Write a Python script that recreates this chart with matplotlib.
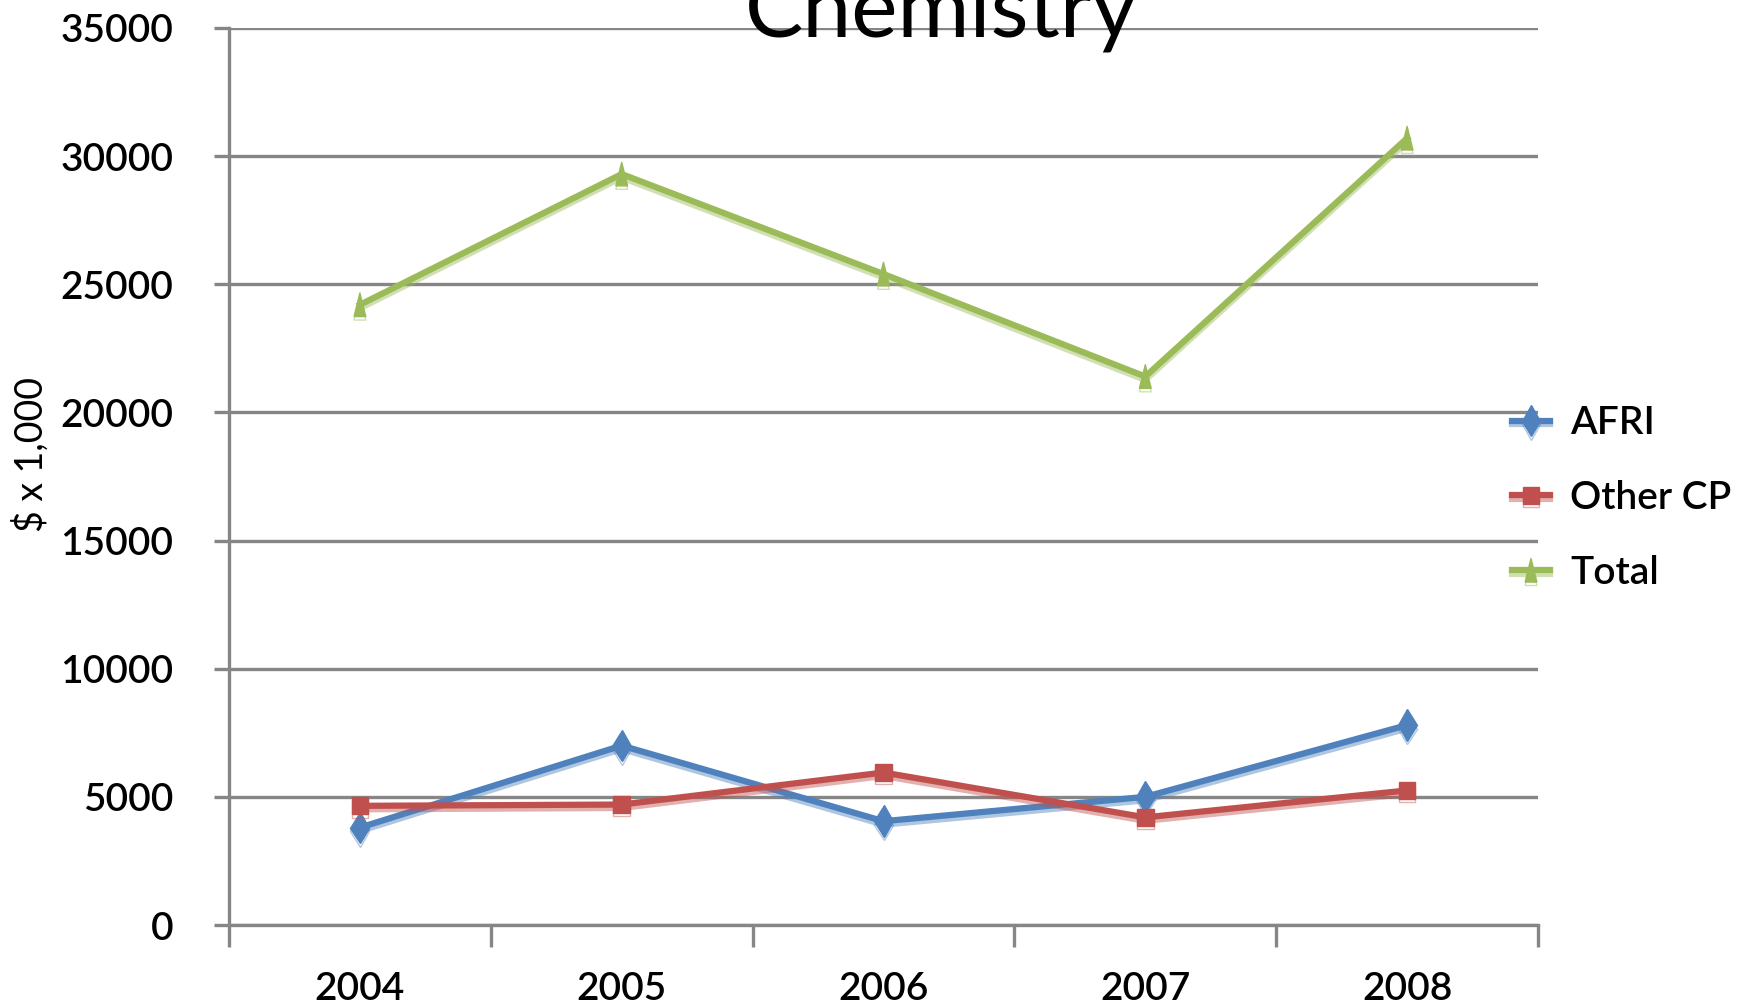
import matplotlib
matplotlib.use("Agg")
import matplotlib.pyplot as plt
import matplotlib.patheffects as pe
import numpy as np

plt.rcParams['font.family'] = ['Lato', 'DejaVu Sans']

years = ['2004', '2005', '2006', '2007', '2008']
afri = [3800, 7000, 4050, 5000, 7800]
other_cp = [4650, 4700, 5950, 4200, 5250]
total = [24200, 29300, 25400, 21400, 30700]

# narrow upright triangle
tri = [(-0.5, -1), (0.5, -1), (0, 1), (-0.5, -1)]

series = [
    ('AFRI', afri, '#4F81BD', 'd', 16),
    ('Other CP', other_cp, '#C0504D', 's', 12),
    ('Total', total, '#9BBB59', tri, 17),
]

fig = plt.figure(figsize=(17.5, 10.08), dpi=100)
ax = fig.add_axes([229 / 1750, 83 / 1008, (1538 - 229) / 1750, (925 - 28) / 1008])

x = np.arange(len(years))
for name, vals, col, mk, ms in series:
    ax.plot(x, vals, color=col, lw=4.5, marker=mk, ms=ms, label=name,
            solid_joinstyle='round', zorder=3,
            path_effects=[pe.SimpleLineShadow(offset=(0, -2.5), shadow_color=col, alpha=0.45),
                          pe.Normal()])

ax.set_xlim(-0.5, len(years) - 0.5)
ax.set_ylim(0, 35000)
ax.set_yticks(np.arange(0, 35001, 5000))
ax.yaxis.grid(True, color='#868686', lw=2.4)
ax.set_axisbelow(True)

# category boundaries carry the tick marks, labels sit in between
ax.set_xticks(np.arange(-0.5, len(years)), minor=False)
ax.set_xticklabels([])
ax.set_xticks(x, minor=True)
ax.set_xticklabels(years, minor=True)
ax.tick_params(axis='x', which='major', length=16, width=2.4, color='#868686')
ax.tick_params(axis='x', which='minor', length=0, pad=33, labelsize=28)
ax.tick_params(axis='y', length=11, width=2.4, color='#868686', labelsize=28, pad=29)
for lab in ax.get_xticklabels(minor=True) + ax.get_yticklabels():
    lab.set_fontweight('semibold')

for s in ['top', 'right']:
    ax.spines[s].set_visible(False)
for s in ['left', 'bottom']:
    ax.spines[s].set_color('#868686')
    ax.spines[s].set_linewidth(2.4)

ax.set_ylabel('$ x 1,000', fontsize=27)
ax.yaxis.set_label_coords(-0.137, 0.524)

fig.text(941 / 1750, 1 - 37 / 1008, 'Chemistry', fontsize=63, ha='center', va='baseline')

leg = fig.legend(loc='center left', bbox_to_anchor=(1496 / 1750, 1 - 498 / 1008),
                 frameon=False, fontsize=28, handlelength=1.0, handletextpad=0.5,
                 labelspacing=1.0, borderaxespad=0, prop={'size': 28, 'weight': 'semibold'})

fig.savefig('out.png', dpi=100)
